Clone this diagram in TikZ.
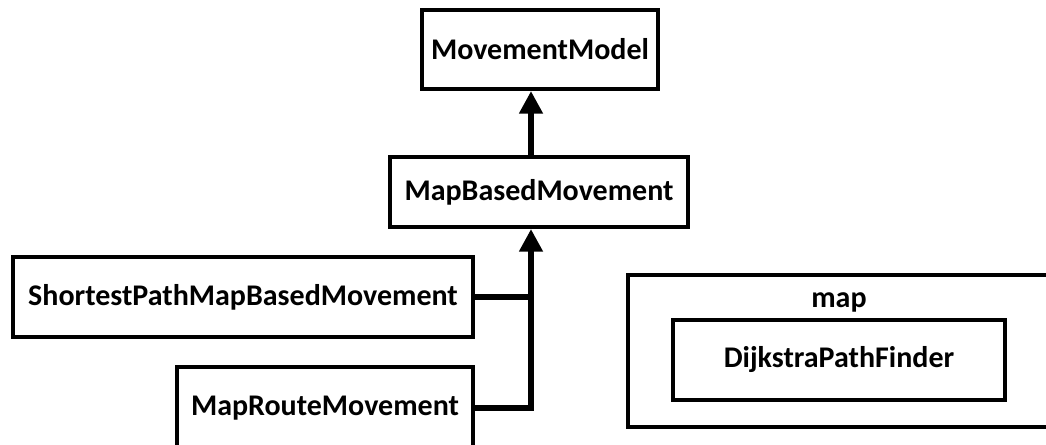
\documentclass[tikz,border=0pt]{standalone}
\usepackage{fontspec}
\setmainfont{Carlito}
\usetikzlibrary{arrows.meta,calc}

\begin{document}
\begin{tikzpicture}[
    x=0.75pt, y=-0.75pt,
    every node/.style={font=\bfseries\fontsize{22.5}{26}\selectfont, inner sep=0pt},
    box/.style={draw=black, line width=3pt, rectangle, fill=white},
    conn/.style={draw=black, line width=4.8pt, line join=miter},
    tip/.style={-{Triangle[length=17pt,width=17pt]}}
  ]
  \path[use as bounding box, clip] (0,0) rectangle (1046,445);
  \fill[white] (0,0) rectangle (1046,445);

  % class boxes
  \node[box, minimum width=177pt, minimum height=59.25pt] (mm)  at (540,49.5) {MovementModel};
  \node[box, minimum width=223.5pt, minimum height=52.5pt] (mbm) at (539,192) {MapBasedMovement};
  \node[box, minimum width=345pt, minimum height=60pt] (sp)  at (243,297) {ShortestPathMapBasedMovement};
  \node[box, minimum width=222pt, minimum height=61.5pt] (mr)  at (325,408) {MapRouteMovement};

  % package "map"
  \node[box, minimum width=316.5pt, minimum height=114pt] (pkg) at (839,351) {};
  \node (pkgname) at (839,302) {map};
  \node[box, minimum width=249pt, minimum height=60pt] (dpf) at (839,360) {DijkstraPathFinder};

  % inheritance connectors
  \coordinate (spine) at (531,0);
  \draw[conn, tip] (mbm.north -| spine) -- (mm.south -| spine);
  \draw[conn, tip] (mr.east) -| (mbm.south -| spine);
  \draw[conn] (sp.east) -- (sp.east -| spine);
\end{tikzpicture}
\end{document}
